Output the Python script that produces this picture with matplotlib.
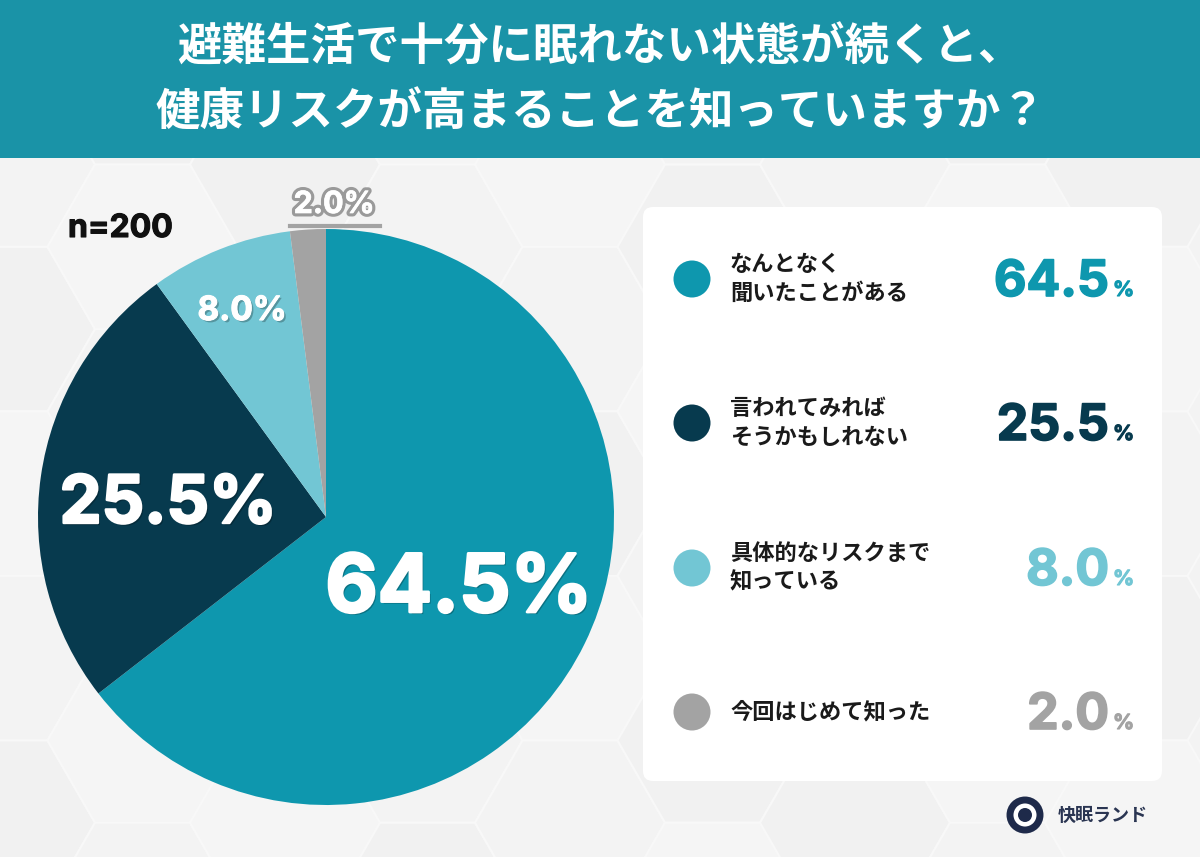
import matplotlib
matplotlib.use("Agg")
import matplotlib.pyplot as plt
import matplotlib.patheffects as pe
from matplotlib.patches import Rectangle, FancyBboxPatch, Circle, RegularPolygon
import numpy as np

plt.rcParams['font.family'] = ['Noto Sans CJK JP', 'DejaVu Sans']
NUMFONT = ['Inter', 'DejaVu Sans']

# ---- data ----
title_lines = ["避難生活で十分に眠れない状態が続くと、", "健康リスクが高まることを知っていますか？"]
categories = ["なんとなく\n聞いたことがある", "言われてみれば\nそうかもしれない",
              "具体的なリスクまで\n知っている", "今回はじめて知った"]
values = [64.5, 25.5, 8.0, 2.0]
value_labels = ["64.5", "25.5", "8.0", "2.0"]
colors = ["#0E97AE", "#073A4E", "#72C6D4", "#A3A3A3"]
sample_note = "n=200"
brand = "快眠ランド"

W, H = 1200, 857
fig = plt.figure(figsize=(12, 8.57), dpi=100)
bg = fig.add_axes([0, 0, 1, 1])
bg.set_xlim(0, W)
bg.set_ylim(H, 0)
bg.axis('off')

def thick(color, lw):
    return [pe.Stroke(linewidth=lw, foreground=color), pe.Normal()]

# background
bg.add_patch(Rectangle((0, 0), W, H, facecolor="#F3F3F3", edgecolor='none', zorder=0))
r = 95
for i in range(-1, 9):
    for j in range(-1, 7):
        hx = i * r * 1.5
        hy = j * r * np.sqrt(3) + (r * np.sqrt(3) / 2 if i % 2 else 0)
        shade = ["#F5F5F5", "#F1F1F1", "#F3F3F3"][(i + 2 * j) % 3]
        bg.add_patch(RegularPolygon((hx, hy), 6, radius=r, orientation=np.pi / 2,
                                    facecolor=shade, edgecolor="#F8F8F8", linewidth=1.5, zorder=0.5))

# header band
bg.add_patch(Rectangle((0, 0), W, 158, facecolor="#1A93A7", edgecolor='none', zorder=1))
bg.text(W / 2, 48, title_lines[0], color='white', fontsize=32, fontweight='bold',
        ha='center', va='center', zorder=2)
bg.text(W / 2, 112, title_lines[1], color='white', fontsize=32, fontweight='bold',
        ha='center', va='center', zorder=2)

# n note
bg.text(68, 237, sample_note, color="#111111", fontsize=23, fontweight='bold',
        family=NUMFONT, ha='left', va='baseline', zorder=2,
        path_effects=thick("#111111", 0.8))

# legend card
bg.add_patch(FancyBboxPatch((643, 207), 519, 574, boxstyle="round,pad=0,rounding_size=10",
                            facecolor='white', edgecolor='none', zorder=2))
row_y = [279, 423, 568, 712]
for k, (cat, val, col) in enumerate(zip(categories, value_labels, colors)):
    y = row_y[k]
    bg.add_patch(Circle((692, y), 18.5, facecolor=col, edgecolor='none', zorder=3))
    bg.text(730, y, cat, color="#1A1A1A", fontsize=16, fontweight='bold',
            ha='left', va='center', linespacing=1.3, zorder=3)
    bg.text(1109, y + 17, val, color=col, fontsize=36, fontweight='bold', family=NUMFONT,
            ha='right', va='baseline', zorder=3, path_effects=thick(col, 1.2))
    bg.text(1113, y + 17, "%", color=col, fontsize=15, fontweight='bold', family=NUMFONT,
            ha='left', va='baseline', zorder=3, path_effects=thick(col, 0.8))

# brand
bg.add_patch(Circle((1025, 815), 15, facecolor='white', edgecolor="#1E2A4A", linewidth=5, zorder=3))
bg.add_patch(Circle((1025, 815), 7, facecolor="#1E2A4A", edgecolor='none', zorder=3))
bg.text(1058, 815, brand, color="#2A3552", fontsize=13, fontweight='bold',
        ha='left', va='center', zorder=3)

# pie
cx, cy, R = 326, 517, 288
pax = fig.add_axes([(cx - R) / W, (H - cy - R) / H, 2 * R / W, 2 * R / H])
wedges, _ = pax.pie(values, colors=colors, startangle=90, counterclock=False,
                    radius=1, wedgeprops=dict(linewidth=0))
pax.set_xlim(-1, 1)
pax.set_ylim(-1, 1)
pax.set_aspect('equal')
pax.axis('off')

# overlay for labels (pixel coords)
ov = fig.add_axes([0, 0, 1, 1])
ov.set_xlim(0, W)
ov.set_ylim(H, 0)
ov.axis('off')
ov.patch.set_alpha(0)

def white_label(lw):
    return [pe.withSimplePatchShadow(offset=(1.5, -1.5), shadow_rgbFace='black', alpha=0.25),
            pe.Stroke(linewidth=lw, foreground='white'), pe.Normal()]

ov.text(459, 612, value_labels[0] + "%", color='white', fontsize=58, fontweight='bold',
        family=NUMFONT, ha='center', va='baseline', path_effects=white_label(2))
ov.text(168, 523, value_labels[1] + "%", color='white', fontsize=48, fontweight='bold',
        family=NUMFONT, ha='center', va='baseline', path_effects=white_label(1.7))
ov.text(242, 320, value_labels[2] + "%", color='white', fontsize=24, fontweight='bold',
        family=NUMFONT, ha='center', va='baseline', path_effects=white_label(0.8))
ov.text(334, 213, value_labels[3] + "%", color='white', fontsize=22, fontweight='bold',
        family=NUMFONT, ha='center', va='baseline',
        path_effects=[pe.Stroke(linewidth=5, foreground="#9A9A9A"),
                      pe.Stroke(linewidth=0.5, foreground='white'), pe.Normal()])
ov.plot([290, 380], [226, 226], color="#A3A3A3", linewidth=3)

fig.savefig("out.png", dpi=100)
